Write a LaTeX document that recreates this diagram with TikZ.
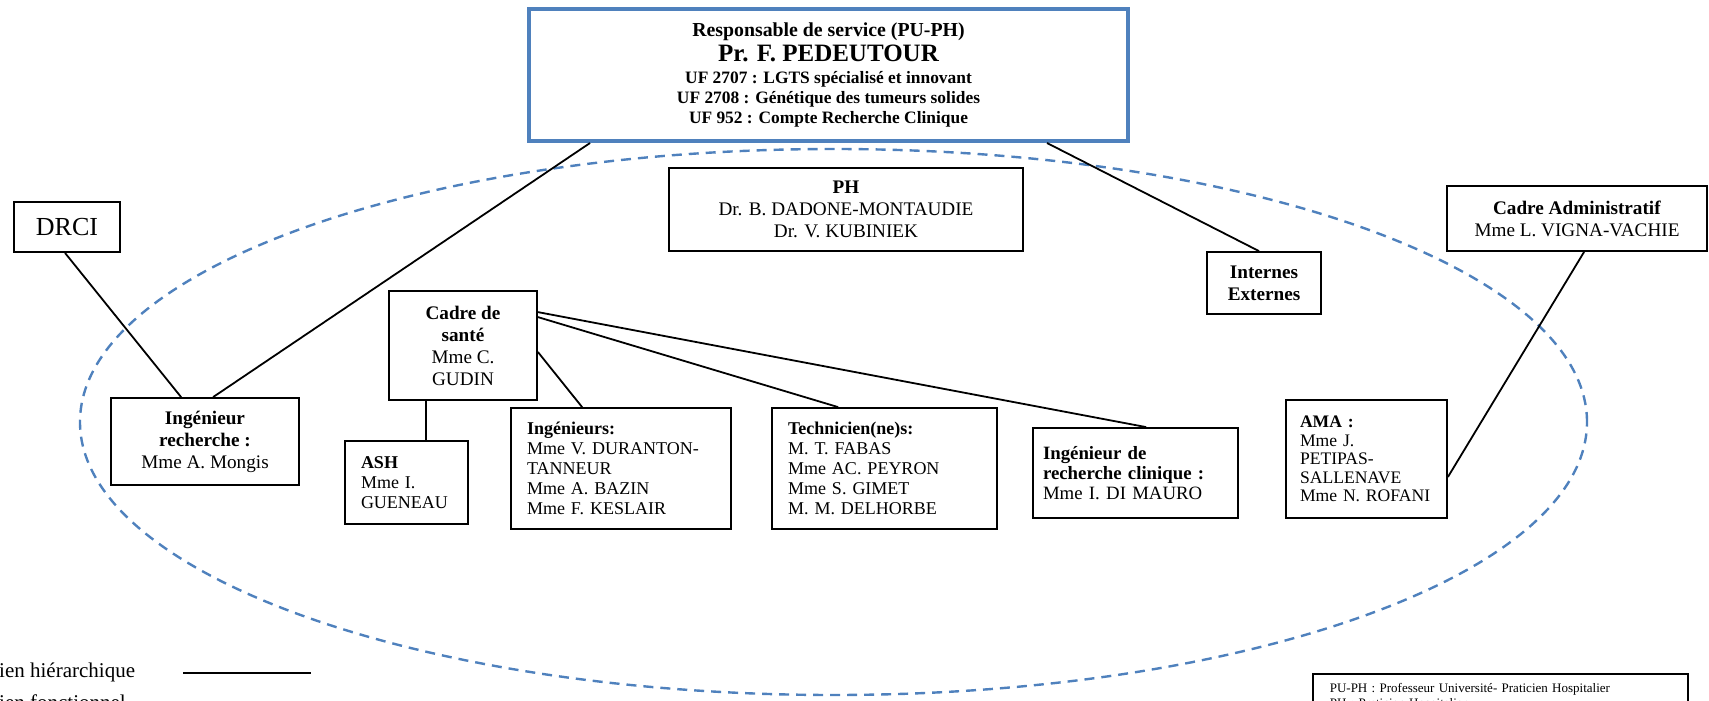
\documentclass[tikz,border=0pt]{standalone}
\usepackage{fontspec}
\setmainfont{Liberation Serif}
\usepackage{tikz}
\usetikzlibrary{shapes}

\definecolor{bleu}{RGB}{79,129,189}
\newcommand{\corps}{\fontsize{9.6}{11}\selectfont}
\newcommand{\petit}{\fontsize{9}{10}\selectfont}
\newcommand{\legende}{\fontsize{10.5}{12}\selectfont}

\tikzset{
  poste/.style={draw,line width=0.9pt,fill=white,align=center,inner sep=2pt,font=\corps},
  postegauche/.style={poste,align=left,inner xsep=8pt},
  direction/.style={draw=bleu,line width=2pt,fill=white,align=center,font=\fontsize{8.7}{10}\selectfont\bfseries},
  ovale/.style={draw=bleu,line width=1.2pt,dash pattern=on 5pt off 3.5pt},
  lien/.style={line width=0.9pt},
}

\begin{document}
\begin{tikzpicture}[x=0.5pt,y=-0.5pt]
\useasboundingbox (0,0) rectangle (1709,701);

\draw[ovale] (833.5,422) ellipse [x radius=376.75pt, y radius=136.5pt];

\node (resp) at (828.5,75)[direction,minimum width=299.5pt,minimum height=66pt] {{\fontsize{9.9}{10}\selectfont Responsable de service (PU-PH)}\\[1.2pt] {\fontsize{12.5}{10}\selectfont Pr. F. PEDEUTOUR}\\[1.2pt] UF 2707 : LGTS spécialisé et innovant\\ UF 2708 : Génétique des tumeurs solides\\ UF 952 : Compte Recherche Clinique};
\node (ph) at (846,209.5)[poste,minimum width=177pt,minimum height=41.5pt] {\textbf{PH}\\ Dr. B. DADONE-MONTAUDIE\\ Dr. V. KUBINIEK};
\node (drci) at (67,227)[poste,minimum width=53pt,minimum height=25pt,font=\fontsize{13}{15}\selectfont] {DRCI};
\node (internes) at (1264,283)[poste,minimum width=57pt,minimum height=31pt,font=\corps\bfseries] {Internes\\ Externes};
\node (admin) at (1577,218.5)[poste,minimum width=130pt,minimum height=32.5pt] {\textbf{Cadre Administratif}\\ Mme L. VIGNA-VACHIE};
\node (cadre) at (463,345.5)[poste,minimum width=74pt,minimum height=54.5pt] {\textbf{Cadre de}\\ \textbf{santé}\\ Mme C.\\ GUDIN};
\node (ingrech) at (205,441.5)[poste,minimum width=94pt,minimum height=43.5pt] {\textbf{Ingénieur}\\ \textbf{recherche :}\\ Mme A. Mongis};
\node (ash) at (406.5,482.5)[postegauche,minimum height=41.5pt,text width=45.5pt,font=\petit] {\textbf{ASH}\\ Mme I.\\ GUENEAU};
\node (inge) at (621,468.5)[postegauche,minimum height=60.5pt,text width=94pt,font=\petit] {\textbf{Ingénieurs:}\\ Mme V. DURANTON-\\ TANNEUR\\ Mme A. BAZIN\\ Mme F. KESLAIR};
\node (tech) at (884.5,468.5)[postegauche,minimum height=60.5pt,text width=96.5pt,font=\petit] {\textbf{Technicien(ne)s:}\\ M. T. FABAS\\ Mme AC. PEYRON\\ Mme S. GIMET\\ M. M. DELHORBE};
\node (irc) at (1135.5,473)[postegauche,inner xsep=5pt,minimum height=45pt,text width=92.5pt,font=\fontsize{9.4}{10}\selectfont] {\textbf{Ingénieur de}\\ \textbf{recherche clinique :}\\ Mme I. DI MAURO};
\node (ama) at (1366.5,459)[postegauche,inner xsep=7pt,minimum height=59pt,text width=66.5pt,font=\fontsize{8.8}{9.3}\selectfont] {\textbf{AMA :}\\ Mme J.\\ PETIPAS-\\ SALLENAVE\\ Mme N. ROFANI};

\draw[lien] ([xshift=31.5pt]resp.south west) -- ([xshift=51.5pt]ingrech.north west);
\draw[lien] ([xshift=-1pt]drci.south) -- ([xshift=35.5pt]ingrech.north west);
\draw[lien] ([xshift=-41.5pt]resp.south east) -- ([xshift=-2.5pt]internes.north);
\draw[lien] ([xshift=19pt]cadre.south west) -- ([xshift=19pt]cadre.south west |- ash.north);
\draw[lien] ([yshift=-3.25pt]cadre.east) -- ([xshift=36pt]inge.north west);
\draw[lien] ([yshift=-13.5pt]cadre.north east) -- ([xshift=33.5pt]tech.north west);
\draw[lien] ([yshift=-11pt]cadre.north east) -- ([xshift=57pt]irc.north west);
\draw[lien] ([xshift=69pt]admin.south west) -- ([yshift=-9pt]ama.east);

% legende
\node (lh) at (-14,677)[anchor=base west,inner sep=0pt,font=\legende] {Lien hiérarchique};
\coordinate (lhA) at (183,673);
\coordinate (lhB) at (311,673);
\draw[lien] (lhA) -- (lhB);
\node (lf) at (-14,709)[anchor=base west,inner sep=0pt,font=\legende] {Lien fonctionnel};
\node (sigles) at (1312,673)[draw,line width=0.8pt,anchor=north west,align=left,text width=170.5pt,inner xsep=8.5pt,inner ysep=5pt,font=\fontsize{6.5}{7.5}\selectfont] {PU-PH : Professeur Université- Praticien Hospitalier\\ PH : Praticien Hospitalier};
\end{tikzpicture}
\end{document}
